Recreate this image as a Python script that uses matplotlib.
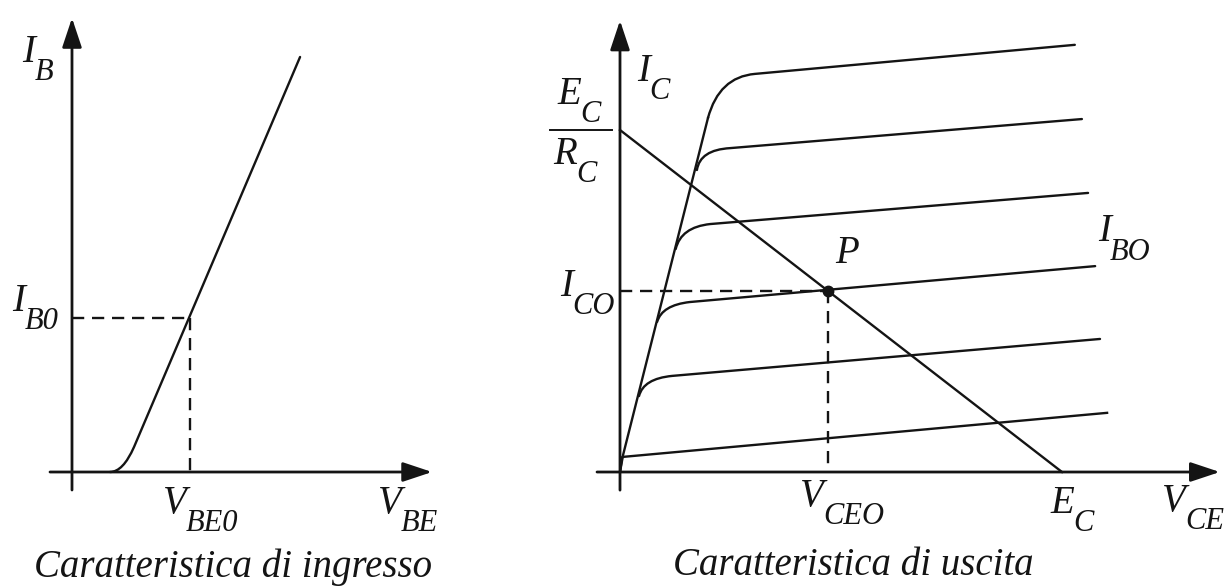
import matplotlib
matplotlib.use("Agg")
import matplotlib.pyplot as plt
from matplotlib.path import Path
from matplotlib.patches import PathPatch

# ---- input characteristic: I_B (uA) versus V_BE (V) ----
# start on the axis, corner control point, end of knee, top of the straight part
vbe_curve = [0.225, 0.303, 0.368, 1.353]
ib_curve = [0.0, 0.0, 3.25, 53.9]
VBE0 = 0.70
IB0 = 20.0

# ---- output characteristics: I_C versus V_CE ----
# each family member: branch point on the saturation line, corner control
# point, end of the knee, right end of the active-region line
vce_curves = [
    [1.99, 2.24, 3.05, 10.29],
    [1.74, 1.81, 2.49, 10.45],
    [1.26, 1.38, 2.04, 10.59],
    [0.84, 0.95, 1.58, 10.75],
    [0.43, 0.53, 1.18, 10.86],
]
ic_curves = [
    [10.35, 11.55, 11.64, 12.49],
    [8.83, 9.42, 9.47, 10.32],
    [6.52, 7.16, 7.25, 8.16],
    [4.39, 4.88, 4.97, 6.02],
    [2.22, 2.73, 2.81, 3.89],
]
# lowest curve (cut-off)
vce_cutoff = [0.0, 0.05, 11.02]
ic_cutoff = [0.0, 0.44, 1.73]
# saturation line rising from the origin
vce_sat = [0.0, 0.07, 1.99]
ic_sat = [0.0, 0.50, 10.35]
# load line end points and quiescent point
EC = 10.0
EC_RC = 10.0
VCE0 = 4.71
IC0 = 5.29

INK = "#141414"
LW = 1.7
AX_LW = 2.0
DASH = (0, (8.8, 5.6))
FONT = "Liberation Serif"
MAIN = 28
SUB = 22

plt.rcParams["lines.scale_dashes"] = False

W, H = 1227, 586
fig = plt.figure(figsize=(W / 100, H / 100), dpi=100)
fig.patch.set_facecolor("white")

ax_in = fig.add_axes([0, 0, 1, 1])
ax_out = fig.add_axes([0, 0, 1, 1])
for ax in (ax_in, ax_out):
    ax.set_axis_off()
    ax.patch.set_alpha(0)

ax_in.set_xlim(-0.4271, 6.852)
ax_in.set_ylim(-14.805, 61.30)
ax_out.set_xlim(-14.027, 13.733)
ax_out.set_ylim(-3.333, 13.801)


def axis_arrow(ax, start, tip):
    ax.annotate("", xy=tip, xytext=start,
                arrowprops=dict(arrowstyle="-|>,head_length=0.9,head_width=0.3",
                                lw=AX_LW, color=INK, shrinkA=0, shrinkB=0,
                                mutation_scale=20))


def knee(ax, xs, ys):
    verts = list(zip(xs, ys))
    codes = [Path.MOVETO, Path.CURVE3, Path.CURVE3] + [Path.LINETO] * (len(verts) - 3)
    ax.add_patch(PathPatch(Path(verts, codes), fill=False, lw=LW, ec=INK,
                           capstyle="round", joinstyle="round"))


def label(ax, x, y, main, sub=None, dx=-0.5, dy=-6.5):
    t = ax.text(x, y, main, fontsize=MAIN, fontfamily=FONT, fontstyle="italic",
                color=INK, ha="left", va="baseline")
    if sub:
        ax.annotate(sub, xy=(1, 0), xycoords=t, xytext=(dx, dy),
                    textcoords="offset points", fontsize=SUB, fontfamily=FONT,
                    fontstyle="italic", color=INK, ha="left", va="baseline")
    return t


# ---------------- input characteristic ----------------
axis_arrow(ax_in, (0, -2.34), (0, 58.96))
axis_arrow(ax_in, (-0.1305, 0), (2.136, 0))
knee(ax_in, vbe_curve, ib_curve)
ax_in.plot([0, VBE0], [IB0, IB0], color=INK, lw=LW, ls=DASH)
ax_in.plot([VBE0, VBE0], [IB0, 0], color=INK, lw=LW, ls=DASH)

label(ax_in, -0.297, 53.3, "I", "B")
label(ax_in, -0.356, 20.9, "I", "B0")
label(ax_in, 0.54, -5.3, "V", "BE0")
label(ax_in, 1.815, -5.3, "V", "BE")
ax_in.text(0.955, -13.7, "Caratteristica di ingresso", fontsize=MAIN,
           fontfamily=FONT, fontstyle="italic", color=INK, ha="center",
           va="baseline")

# ---------------- output characteristic ----------------
axis_arrow(ax_out, (0, -0.53), (0, 13.2))
axis_arrow(ax_out, (-0.52, 0), (13.57, 0))

ax_out.plot(vce_sat, ic_sat, color=INK, lw=LW, solid_joinstyle="round")
ax_out.plot(vce_cutoff, ic_cutoff, color=INK, lw=LW, solid_joinstyle="round")
for xs, ys in zip(vce_curves, ic_curves):
    knee(ax_out, xs, ys)

ax_out.plot([0, EC], [EC_RC, 0], color=INK, lw=LW)
ax_out.plot([0, VCE0], [IC0, IC0], color=INK, lw=LW, ls=DASH)
ax_out.plot([VCE0, VCE0], [IC0, 0], color=INK, lw=LW, ls=DASH)
ax_out.plot([VCE0], [IC0], "o", color=INK, ms=7.5)

# E_C / R_C fraction
ax_out.plot([-1.58, -0.18], [EC_RC, EC_RC], color=INK, lw=1.4)
label(ax_out, -1.425, 10.75, "E", "C")
label(ax_out, -1.516, 9.0, "R", "C")

label(ax_out, 0.385, 11.42, "I", "C")
label(ax_out, -1.357, 5.15, "I", "CO")
label(ax_out, 4.86, 6.11, "P")
label(ax_out, 10.81, 6.74, "I", "BO")
label(ax_out, 4.07, -1.0, "V", "CEO")
label(ax_out, 9.73, -1.2, "E", "C")
label(ax_out, 12.26, -1.15, "V", "CE")
ax_out.text(5.27, -3.02, "Caratteristica di uscita", fontsize=MAIN,
            fontfamily=FONT, fontstyle="italic", color=INK, ha="center",
            va="baseline")

fig.savefig("out.png", dpi=100, facecolor="white")
